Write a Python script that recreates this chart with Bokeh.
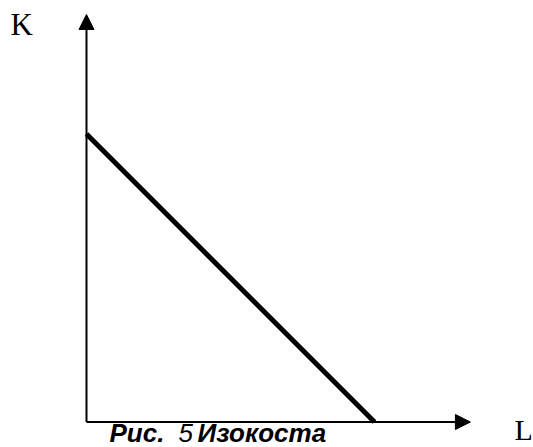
from bokeh.plotting import figure
from bokeh.models import Range1d, Arrow, NormalHead
from bokeh.core.properties import value
from bokeh.embed import file_html
from bokeh.resources import INLINE

# Data (abstract units): isocost line between K-intercept and L-intercept
iso_L = [0, 10.0]
iso_K = [10.0, 0]
axis_L_max = 13.33
axis_K_max = 14.15
axis_labels = ["K", "L"]
caption_parts = ["Рис.", "5", "Изокоста"]  # "Рис. 5 Изокоста"

W, H = 533, 447
p = figure(width=W, height=H, output_backend="svg", toolbar_location=None,
           x_range=Range1d(-2.986, 15.521), y_range=Range1d(-0.885, 14.635),
           min_border=0, outline_line_color=None)
p.axis.visible = False
p.grid.visible = False
p.background_fill_color = "white"
p.border_fill_color = "white"

# axes with arrow heads
p.add_layout(Arrow(end=NormalHead(size=15, fill_color="black", line_color="black"),
                   x_start=0, y_start=0, x_end=0, y_end=axis_K_max,
                   line_width=2, line_color="black"))
p.add_layout(Arrow(end=NormalHead(size=15, fill_color="black", line_color="black"),
                   x_start=0, y_start=0, x_end=axis_L_max, y_end=0,
                   line_width=2, line_color="black"))

# isocost line
p.line(iso_L, iso_K, line_width=5, line_color="black")

serif = value("Liberation Serif")
sans = value("Liberation Sans")
p.text(x=[-2.639], y=[13.785], text=[axis_labels[0]], text_font=serif,
       text_font_size="31px", text_color="black", text_baseline="middle")
p.text(x=[14.861], y=[-0.257], text=[axis_labels[1]], text_font=serif,
       text_font_size="30px", text_color="black", text_baseline="middle")

cap_y = -0.375
p.text(x=[0.799], y=[cap_y], text=[caption_parts[0]], text_font=sans,
       text_font_size="26px", text_font_style="bold italic",
       text_color="black", text_baseline="middle")
p.text(x=[3.194], y=[cap_y], text=[caption_parts[1]], text_font=sans,
       text_font_size="26px", text_font_style="italic",
       text_color="black", text_baseline="middle")
p.text(x=[3.854], y=[cap_y], text=[caption_parts[2]], text_font=sans,
       text_font_size="26px", text_font_style="bold italic",
       text_color="black", text_baseline="middle")

open("out.html", "w").write(file_html(p, INLINE))
